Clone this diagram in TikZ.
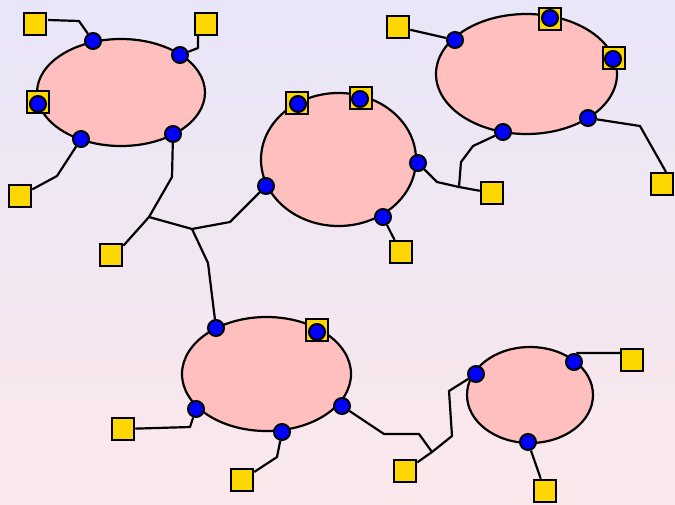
\documentclass[tikz,border=0pt]{standalone}
\usetikzlibrary{shapes.geometric}
\definecolor{bgtop}{RGB}{232,230,248}
\definecolor{bgbot}{RGB}{251,232,236}
\definecolor{cellpink}{RGB}{255,191,191}
\definecolor{portblue}{RGB}{0,0,255}
\definecolor{gold}{RGB}{255,215,0}
\tikzset{
  cell/.style={ellipse, draw=black, fill=cellpink, line width=2.2pt, inner sep=0pt},
  port/.style={circle, draw=black, fill=portblue, line width=2pt, minimum size=16pt, inner sep=0pt},
  pad/.style={rectangle, draw=black, fill=gold, line width=2pt, minimum size=22.5pt, inner sep=0pt},
  wire/.style={draw=black, line width=2.2pt, line join=round}
}
\begin{document}
\begin{tikzpicture}[x=1pt,y=-1pt]
  % background
  \shade[top color=bgtop, bottom color=bgbot] (0,0) rectangle (675,504);
  \useasboundingbox (0,0) rectangle (675,504);

  % cells
  \node[cell, minimum width=168pt, minimum height=107pt] (e1) at (121,92.5) {};
  \node[cell, minimum width=155pt, minimum height=133pt] (e2) at (338.5,159.5) {};
  \node[cell, minimum width=181pt, minimum height=120pt] (e3) at (526.5,74) {};
  \node[cell, minimum width=169pt, minimum height=114pt] (e4) at (266.5,374) {};
  \node[cell, minimum width=126pt, minimum height=96pt] (e5) at (530,395) {};

  % pads
  \node[pad] (s1) at (35,24) {};
  \node[pad] (s2) at (206,24) {};
  \node[pad] (s3) at (38,102) {};
  \node[pad] (s4) at (20,196) {};
  \node[pad] (s5) at (111,255) {};
  \node[pad] (s6) at (297,103) {};
  \node[pad] (s7) at (361,98) {};
  \node[pad] (s8) at (401,252) {};
  \node[pad] (s9) at (398,27) {};
  \node[pad] (s10) at (550,19) {};
  \node[pad] (s11) at (614,58) {};
  \node[pad] (s12) at (492,193) {};
  \node[pad] (s13) at (662,184) {};
  \node[pad] (s14) at (317,330) {};
  \node[pad] (s15) at (123,429) {};
  \node[pad] (s16) at (242,480) {};
  \node[pad] (s17) at (405,471) {};
  \node[pad] (s18) at (632,360) {};
  \node[pad] (s19) at (545,491) {};

  % ports
  \node[port] (p1) at (93,41) {};
  \node[port] (p2) at (180,55) {};
  \node[port] (p3) at (38,104) {};
  \node[port] (p4) at (81,139) {};
  \node[port] (p5) at (173,134) {};
  \node[port] (p6) at (298,104) {};
  \node[port] (p7) at (360,99) {};
  \node[port] (p8) at (418,163) {};
  \node[port] (p9) at (266,186) {};
  \node[port] (p10) at (383,217) {};
  \node[port] (p11) at (455,40) {};
  \node[port] (p12) at (550,18) {};
  \node[port] (p13) at (613,59) {};
  \node[port] (p14) at (588,118) {};
  \node[port] (p15) at (503,132) {};
  \node[port] (p16) at (216,328) {};
  \node[port] (p17) at (317,332) {};
  \node[port] (p18) at (196,409) {};
  \node[port] (p19) at (282,432) {};
  \node[port] (p20) at (342,406) {};
  \node[port] (p21) at (476,374) {};
  \node[port] (p22) at (574,362) {};
  \node[port] (p23) at (528,442) {};

  % junctions
  \coordinate (j1) at (149,217);
  \coordinate (j2) at (192,229);
  \coordinate (j3) at (459,187);
  \coordinate (j4) at (432,452);
  \coordinate (k1) at (577,353);

  % wires
  \draw[wire] (p1) -- (79,21) -- (48,20);
  \draw[wire] (p2) -- (198,48) -- (198,35.5);
  \draw[wire] (p4) -- (57,176) -- (s4);
  \draw[wire] (p5) -- (172,177) -- (j1) -- (124,245) -- (s5);
  \draw[wire] (j1) -- (j2) -- (230,222) -- (p9);
  \draw[wire] (j2) -- (208,263) -- (p16);
  \draw[wire] (p10) -- (391,233) -- (s8);
  \draw[wire] (p8) -- (437,182) -- (j3) -- (s12);
  \draw[wire] (j3) -- (461,162) -- (473,146) -- (p15);
  \draw[wire] (s9) -- (p11);
  \draw[wire] (p14) -- (640,126) -- (666,172);
  \draw[wire] (p18) -- (190,427) -- (s15);
  \draw[wire] (p19) -- (277,457) -- (s16);
  \draw[wire] (p20) -- (384,434) -- (419,434) -- (j4) -- (s17);
  \draw[wire] (j4) -- (452,436) -- (449,391) -- (p21);
  \draw[wire] (p22) -- (k1) -- (s18.west |- k1);
  \draw[wire] (p23) -- (s19);
\end{tikzpicture}
\end{document}
